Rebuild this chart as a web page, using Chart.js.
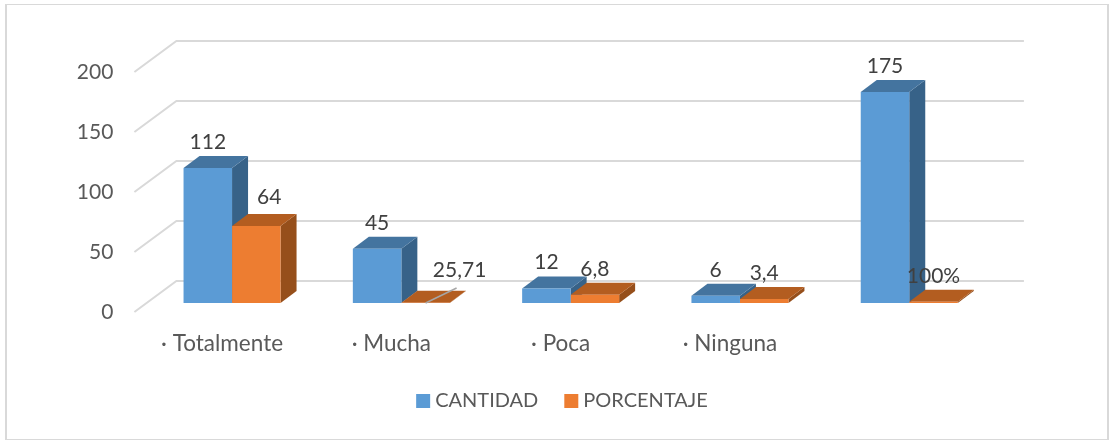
<!DOCTYPE html>
<html lang="es">
<head>
    <meta charset="UTF-8">
    <title>Cantidad y porcentaje</title>
    <script src="https://cdn.jsdelivr.net/npm/chart.js"></script>
    <style>
        html, body {
            margin: 0;
            padding: 0;
            background-color: #fff;
        }
        #caja {
            position: absolute;
            left: 0;
            top: 0;
            width: 1109px;
            height: 440px;
        }
        #marco {
            position: absolute;
            left: 5px;
            top: 4px;
            width: 1100px;
            height: 434px;
            border-style: solid;
            border-color: #D9D9D9;
            border-width: 1px 2px 2px 2px;
            pointer-events: none;
        }
    </style>
</head>
<body>

<div id="caja"><canvas id="grafico"></canvas></div>
<div id="marco"></div>

<script>
    const categorias = ['· Totalmente', '· Mucha', '· Poca', '· Ninguna', ''];
    const cantidad = [112, 45, 12, 6, 175];
    const porcentaje = [64, 0.2571, 6.8, 3.4, 1];
    const etiquetasCantidad = ['112', '45', '12', '6', '175'];
    const etiquetasPorcentaje = ['64', '25,71', '6,8', '3,4', '100%'];

    const fuente = 'Lato, "Open Sans", sans-serif';

    // profundidad de las barras y del plano de la cuadricula
    const fondoBarra = { x: 16, y: -12 };
    const fondoRejilla = { x: 42, y: -31 };

    const colores = [
        { frente: '#5B9BD5', arriba: '#44749F', lado: '#376288' },
        { frente: '#ED7D31', arriba: '#B35D20', lado: '#964F1B' }
    ];

    function cara(ctx, puntos, color) {
        ctx.fillStyle = color;
        ctx.beginPath();
        puntos.forEach((p, i) => i ? ctx.lineTo(p[0], p[1]) : ctx.moveTo(p[0], p[1]));
        ctx.closePath();
        ctx.fill();
    }

    const rejilla3d = {
        id: 'rejilla3d',
        beforeDatasetsDraw(chart) {
            const { ctx, chartArea, scales } = chart;
            const izq = chartArea.left - 13;
            const der = chartArea.right + 30;
            ctx.save();
            ctx.strokeStyle = '#D9D9D9';
            ctx.lineWidth = 2;
            scales.y.ticks.forEach(t => {
                const y = scales.y.getPixelForValue(t.value);
                ctx.beginPath();
                ctx.moveTo(izq, y);
                ctx.lineTo(izq + fondoRejilla.x, y + fondoRejilla.y);
                ctx.lineTo(der, y + fondoRejilla.y);
                ctx.stroke();
            });

            // caras superior y lateral, serie por serie
            chart.data.datasets.forEach((ds, i) => {
                chart.getDatasetMeta(i).data.forEach(barra => {
                    const d = barra.getProps(['x', 'y', 'base', 'width']);
                    const a = d.x - d.width / 2;
                    const b = d.x + d.width / 2;
                    const fx = fondoBarra.x, fy = fondoBarra.y;
                    cara(ctx, [[b, d.y], [b + fx, d.y + fy], [b + fx, d.base + fy], [b, d.base]], colores[i].lado);
                    cara(ctx, [[a, d.y], [a + fx, d.y + fy], [b + fx, d.y + fy], [b, d.y]], colores[i].arriba);
                });
            });
            ctx.restore();
        }
    };

    const etiquetas3d = {
        id: 'etiquetas3d',
        afterDatasetsDraw(chart) {
            const { ctx } = chart;
            const textos = [etiquetasCantidad, etiquetasPorcentaje];
            ctx.save();
            ctx.font = '21px ' + fuente;
            ctx.fillStyle = '#404040';
            ctx.textAlign = 'center';
            ctx.textBaseline = 'middle';
            chart.data.datasets.forEach((ds, i) => {
                chart.getDatasetMeta(i).data.forEach((barra, j) => {
                    let x = barra.x;
                    let y = barra.y - 26;
                    if (i === 1 && j === 0) { x += 13; y -= 3; }
                    if (i === 1 && j === 1) {
                        // la etiqueta 25,71 va separada, con linea guia
                        ctx.strokeStyle = '#A6A6A6';
                        ctx.lineWidth = 1.5;
                        ctx.beginPath();
                        ctx.moveTo(x, barra.base);
                        ctx.lineTo(x + 31, barra.base - 15);
                        ctx.stroke();
                        x += 34;
                        y -= 6;
                    }
                    ctx.fillText(textos[i][j], x, y);
                });
            });
            ctx.restore();
        }
    };

    Chart.defaults.animation = false;

    new Chart(document.getElementById('grafico'), {
        type: 'bar',
        data: {
            labels: categorias,
            datasets: [
                { label: 'CANTIDAD', data: cantidad, backgroundColor: colores[0].frente, yAxisID: 'y1' },
                { label: 'PORCENTAJE', data: porcentaje, backgroundColor: colores[1].frente, yAxisID: 'y1' }
            ]
        },
        options: {
            responsive: true,
            maintainAspectRatio: false,
            barPercentage: 1,
            categoryPercentage: 0.573,
            layout: { padding: { left: 20, right: 0, top: 72, bottom: 19 } },
            scales: {
                x: {
                    grid: { display: false },
                    border: { display: false },
                    ticks: {
                        color: '#595959',
                        font: { family: fuente, size: 22.5 },
                        labelOffset: -10,
                        padding: 10,
                        maxRotation: 0,
                        autoSkip: false
                    },
                    afterFit(eje) { eje.height = 48; }
                },
                y: {
                    min: 0,
                    max: 200,
                    grid: { display: false },
                    border: { display: false },
                    ticks: {
                        stepSize: 50,
                        color: '#595959',
                        font: { family: fuente, size: 21 },
                        padding: 26
                    },
                    afterFit(eje) { eje.width = 127.4; }
                },
                // eje oculto de las barras: el plano de las barras esta por detras del eje visible
                y1: {
                    position: 'right',
                    min: -7.47,
                    max: 191.7,
                    grid: { display: false },
                    border: { display: false },
                    ticks: { display: false },
                    afterFit(eje) { eje.width = 115.1; }
                }
            },
            plugins: {
                tooltip: { enabled: false },
                legend: {
                    position: 'bottom',
                    labels: {
                        color: '#595959',
                        font: { family: fuente, size: 20 },
                        usePointStyle: true,
                        pointStyle: 'rect',
                        boxHeight: 14,
                        boxWidth: 4,
                        padding: 31
                    }
                }
            }
        },
        plugins: [rejilla3d, etiquetas3d]
    });
</script>

</body>
</html>
